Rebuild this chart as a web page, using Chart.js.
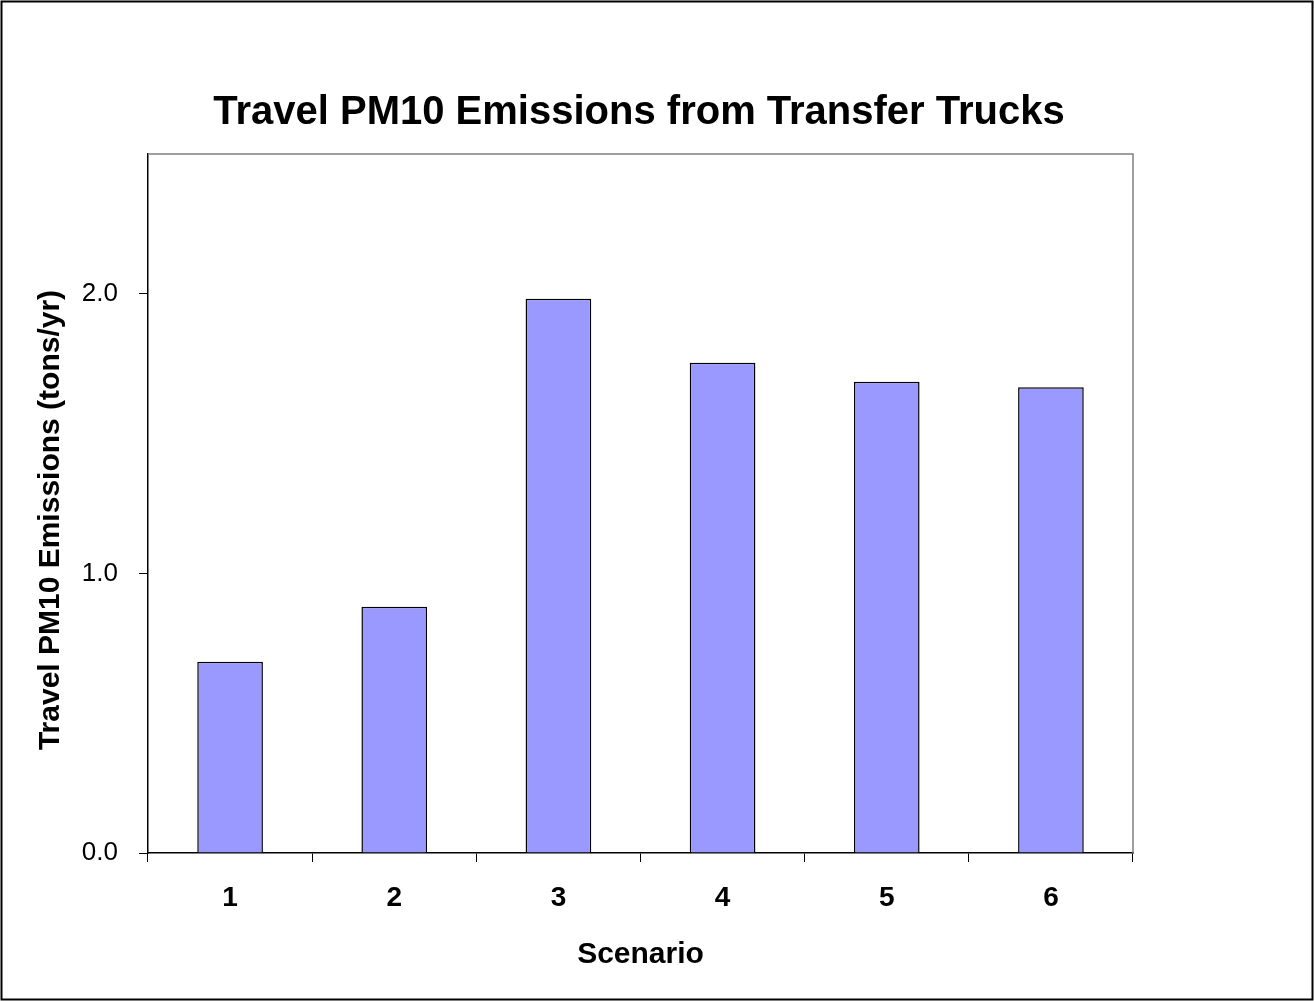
<!DOCTYPE html>
<html>
<head>
<meta charset="utf-8">
<script src="https://cdn.jsdelivr.net/npm/chart.js@4/dist/chart.umd.min.js"></script>
<style>
  html, body { margin:0; padding:0; background:#fff; }
  #wrap { width:1314px; height:1001px; position:relative; }
</style>
</head>
<body>
<div id="wrap"><canvas id="c"></canvas></div>
<script>
// data
const scenarios = ['1','2','3','4','5','6'];
const pm10Tons = [0.684, 0.881, 1.982, 1.753, 1.685, 1.666];
const yTickValues = [0, 1, 2];
const yMax = 2.5;

const chartTitle = 'Travel PM10 Emissions from Transfer Trucks';
const yTitle = 'Travel PM10 Emissions (tons/yr)';
const xTitle = 'Scenario';

const FONT = '"Liberation Sans", Arial, sans-serif';

// frame around the picture + grey top/right edge of plot area + rotated y title
const framePlugin = {
  id:'frame',
  beforeDatasetsDraw(chart){
    const {ctx, chartArea:a} = chart;
    ctx.save();
    ctx.strokeStyle = '#808080';
    ctx.lineWidth = 1.5;
    ctx.beginPath();
    ctx.moveTo(a.left, a.top); ctx.lineTo(a.right, a.top); ctx.lineTo(a.right, a.bottom);
    ctx.stroke();
    ctx.restore();
  },
  afterDraw(chart){
    const {ctx, width, height} = chart;
    ctx.save();
    ctx.strokeStyle = '#000';
    ctx.lineWidth = 2;
    ctx.strokeRect(1.5, 1.5, width-3, height-3);
    // y axis title (sits a bit below the plot centre, like the original)
    ctx.translate(51, 520);
    ctx.rotate(-Math.PI/2);
    ctx.font = 'bold 30px ' + FONT;
    ctx.fillStyle = '#000';
    ctx.textAlign = 'center';
    ctx.textBaseline = 'middle';
    ctx.fillText(yTitle, 0, 0);
    ctx.restore();
  }
};

new Chart(document.getElementById('c'), {
  type:'bar',
  data:{
    labels: scenarios,
    datasets:[{
      data: pm10Tons,
      backgroundColor:'#9999FF',
      borderColor:'#000',
      borderWidth:1.5,
      barPercentage:0.4,
      categoryPercentage:1
    }]
  },
  options:{
    responsive:true,
    maintainAspectRatio:false,
    animation:false,
    layout:{ padding:{ left:0, right:36, top:0, bottom:0 } },
    plugins:{
      legend:{ display:false },
      tooltip:{ enabled:false },
      title:{
        display:true,
        text: chartTitle,
        color:'#000',
        font:{ family:FONT, size:40, weight:'bold', lineHeight:1.2 },
        padding:{ top:89, bottom:17 }
      }
    },
    scales:{
      x:{
        offset:true,
        grid:{ display:true, drawOnChartArea:false, offset:true, color:'#000', tickLength:9, lineWidth:1 },
        border:{ color:'#000', width:1.5 },
        ticks:{ color:'#000', padding:19, font:{ family:FONT, size:28, weight:'bold' } },
        title:{ display:true, text:xTitle, color:'#000', font:{ family:FONT, size:30, weight:'bold', lineHeight:1.2 }, padding:{ top:28, bottom:28 } },
        afterFit(scale){ scale.height = 148; }
      },
      y:{
        min:0,
        max:yMax,
        grid:{ display:true, drawOnChartArea:false, color:'#000', tickLength:9, lineWidth:1 },
        border:{ color:'#000', width:1.5 },
        ticks:{ color:'#000', padding:21, font:{ family:FONT, size:26 }, callback:v => v.toFixed(1) },
        afterBuildTicks(scale){ scale.ticks = yTickValues.map(v => ({value:v})); },
        afterFit(scale){ scale.width = 148; }
      },
      // empty right-hand spacer so the plot ends where the original does
      yRight:{
        position:'right',
        display:true,
        grid:{ display:false },
        border:{ display:false },
        ticks:{ display:false },
        afterFit(scale){ scale.width = 145; }
      }
    }
  },
  plugins:[framePlugin]
});
</script>
</body>
</html>
